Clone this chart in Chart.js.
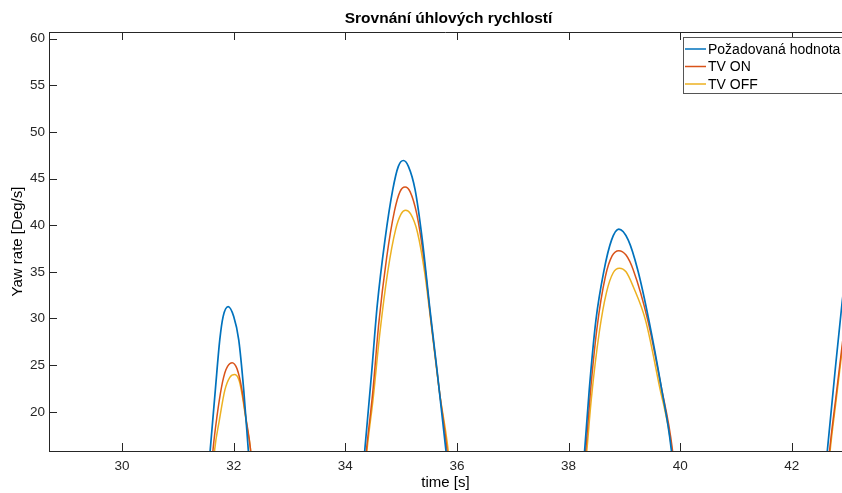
<!DOCTYPE html>
<html>
<head>
<meta charset="utf-8">
<script src="https://cdn.jsdelivr.net/npm/chart.js@4"></script>
<style>
  html, body { margin: 0; padding: 0; background: #fff; }
  #wrap { width: 842px; height: 493px; }
</style>
</head>
<body>
<div id="wrap"><canvas id="yawChart" width="842" height="493"></canvas></div>
<script>
// Požadovaná hodnota (reference)
const refTime = [31.56, 31.58, 31.67, 31.75, 31.81, 31.90, 32.00, 32.09, 32.18, 32.26, 32.28, null,
  34.32, 34.35, 34.47, 34.57, 34.71, 34.85, 34.95, 35.04, 35.13, 35.25, 35.38, 35.51, 35.65, 35.80, 35.84, null,
  38.26, 38.29, 38.37, 38.49, 38.63, 38.77, 38.90, 39.07, 39.24, 39.44, 39.66, 39.84, 39.87, null,
  42.61, 42.64, 42.77, 42.90, 42.95];
const refRate = [14.5, 16, 22.3, 27.7, 30.2, 31.27, 30.2, 27.7, 22.3, 16, 14.5, null,
  14, 16, 24.1, 31.3, 38.4, 43.8, 46.3, 46.93, 46.3, 43.8, 38.4, 31.3, 24.1, 16, 14, null,
  14, 16, 22.3, 29.8, 35.0, 38.4, 39.57, 38.4, 35.2, 29.8, 22.7, 16, 14, null,
  14, 16, 24, 31.6, 34];

// TV ON
const onTime = [31.61, 31.63, 31.70, 31.78, 31.86, 31.97, 32.06, 32.14, 32.22, 32.30, 32.32, null,
  34.35, 34.38, 34.49, 34.60, 34.74, 34.88, 34.98, 35.07, 35.16, 35.28, 35.41, 35.54, 35.68, 35.82, 35.85, null,
  38.28, 38.31, 38.39, 38.51, 38.66, 38.78, 38.90, 39.03, 39.16, 39.42, 39.66, 39.86, 39.89, null,
  42.65, 42.68, 42.80, 42.90, 42.95];
const onRate = [14.5, 16, 19.5, 22.6, 24.5, 25.26, 24.6, 22.6, 19.3, 16, 14.5, null,
  14, 16, 22, 29.5, 36.5, 41.5, 43.6, 44.1, 43.6, 41.2, 36.3, 29.5, 22.5, 16, 14, null,
  14, 16, 22.0, 29.0, 34.5, 36.7, 37.27, 36.8, 35.2, 29.8, 22.7, 16, 14, null,
  14, 16, 22, 27, 29.5];

// TV OFF
const offTime = [31.64, 31.66, 31.74, 31.84, 31.93, 32.02, 32.10, 32.16, 32.23, 32.30, 32.32, null,
  34.36, 34.39, 34.50, 34.62, 34.76, 34.90, 35.00, 35.08, 35.17, 35.29, 35.42, 35.55, 35.69, 35.84, 35.87, null,
  38.30, 38.33, 38.41, 38.55, 38.68, 38.80, 38.91, 39.03, 39.16, 39.38, 39.63, 39.85, 39.88, null,
  42.66, 42.69, 42.80, 42.90, 42.95];
const offRate = [14.5, 16, 19.0, 22.3, 23.7, 24.0, 23.3, 21.5, 18.7, 16, 14.5, null,
  14, 16, 21.5, 28.5, 35, 39.5, 41.2, 41.6, 41.2, 39.3, 35, 28.8, 22, 16, 14, null,
  14, 16, 21.5, 28.5, 32.8, 34.9, 35.39, 35.0, 33.4, 29.8, 22.7, 16, 14, null,
  14, 16, 21.5, 26.5, 29];

const seriesNames = ['Požadovaná hodnota', 'TV ON', 'TV OFF'];
const seriesColors = ['#0072BD', '#D95319', '#EDB120'];
const xTickValues = [30, 32, 34, 36, 38, 40, 42];
const yTickValues = [20, 25, 30, 35, 40, 45, 50, 55, 60];
const chartTitle = 'Srovnání úhlových rychlostí';

const FONT = '"Liberation Sans", Arial, Helvetica, sans-serif';
const AXIS_COLOR = '#262626';

function toPoints(times, rates) {
    return times.map((t, i) => t === null ? { x: null, y: null } : { x: t, y: rates[i] });
}

// MATLAB-like frame: inward ticks, top edge, title and legend inside the axes
const matlabFrame = {
    id: 'matlabFrame',
    afterDatasetsDraw(chart) {
        const ctx = chart.ctx;
        const area = chart.chartArea;
        const xs = chart.scales.x;
        const ys = chart.scales.y;
        ctx.save();
        ctx.strokeStyle = AXIS_COLOR;
        ctx.lineWidth = 1;
        ctx.beginPath();
        // top edge
        ctx.moveTo(area.left, Math.round(area.top) + 0.5);
        ctx.lineTo(area.right, Math.round(area.top) + 0.5);
        xs.ticks.forEach(t => {
            const px = Math.round(xs.getPixelForValue(t.value)) + 0.5;
            ctx.moveTo(px, area.bottom);
            ctx.lineTo(px, area.bottom - 8);
            ctx.moveTo(px, area.top);
            ctx.lineTo(px, area.top + 8);
        });
        ys.ticks.forEach(t => {
            const py = Math.round(ys.getPixelForValue(t.value)) + 0.5;
            ctx.moveTo(area.left, py);
            ctx.lineTo(area.left + 8, py);
        });
        ctx.stroke();

        // title
        ctx.fillStyle = '#000';
        ctx.font = 'bold 15.5px ' + FONT;
        ctx.textAlign = 'center';
        ctx.textBaseline = 'middle';
        ctx.fillText(chartTitle, (area.left + area.right) / 2 + 3, 19);

        // legend
        const lx = 683.5, ly = 37.5;
        ctx.fillStyle = '#fff';
        ctx.fillRect(lx, ly, 200, 56);
        ctx.strokeStyle = '#555';
        ctx.strokeRect(lx, ly, 200, 56);
        ctx.font = '14px ' + FONT;
        ctx.textAlign = 'left';
        chart.data.datasets.forEach((ds, i) => {
            const ry = 49 + i * 17.5;
            ctx.strokeStyle = ds.borderColor;
            ctx.lineWidth = 1.5;
            ctx.beginPath();
            ctx.moveTo(685, ry);
            ctx.lineTo(706, ry);
            ctx.stroke();
            ctx.fillStyle = '#000';
            ctx.fillText(ds.label, 708, ry + 1);
        });
        ctx.restore();
    }
};

const ctx = document.getElementById('yawChart').getContext('2d');
new Chart(ctx, {
    type: 'line',
    data: {
        datasets: [
            { label: seriesNames[0], data: toPoints(refTime, refRate), borderColor: seriesColors[0], borderWidth: 1.7 },
            { label: seriesNames[1], data: toPoints(onTime, onRate), borderColor: seriesColors[1], borderWidth: 1.5 },
            { label: seriesNames[2], data: toPoints(offTime, offRate), borderColor: seriesColors[2], borderWidth: 1.5 }
        ]
    },
    options: {
        responsive: false,
        animation: false,
        events: [],
        spanGaps: false,
        layout: { padding: { top: 32, left: 0, right: 0, bottom: 0 } },
        elements: {
            point: { radius: 0 },
            line: { fill: false, cubicInterpolationMode: 'monotone' }
        },
        plugins: {
            legend: { display: false },
            title: { display: false },
            tooltip: { enabled: false }
        },
        scales: {
            x: {
                type: 'linear',
                min: 28.69,
                max: 42.9,
                afterFit: s => { s.height = 42; },
                afterBuildTicks: s => { s.ticks = xTickValues.map(v => ({ value: v })); },
                grid: { drawOnChartArea: false, drawTicks: false },
                border: { display: true, color: AXIS_COLOR, width: 1 },
                ticks: { color: AXIS_COLOR, padding: 7, font: { family: FONT, size: 13.5 }, maxRotation: 0 },
                title: { display: true, text: 'time [s]', color: '#000', font: { family: FONT, size: 15 }, padding: { top: 0, bottom: 1 } }
            },
            y: {
                type: 'linear',
                min: 15.8,
                max: 60.7,
                afterFit: s => { s.width = 49; },
                afterBuildTicks: s => { s.ticks = yTickValues.map(v => ({ value: v })); },
                grid: { drawOnChartArea: false, drawTicks: false },
                border: { display: true, color: AXIS_COLOR, width: 1 },
                ticks: { color: AXIS_COLOR, padding: 4, font: { family: FONT, size: 13.5 } },
                title: { display: true, text: 'Yaw rate [Deg/s]', color: '#000', font: { family: FONT, size: 15 }, padding: { top: 9, bottom: 0 } }
            }
        }
    },
    plugins: [matlabFrame]
});
</script>
</body>
</html>
